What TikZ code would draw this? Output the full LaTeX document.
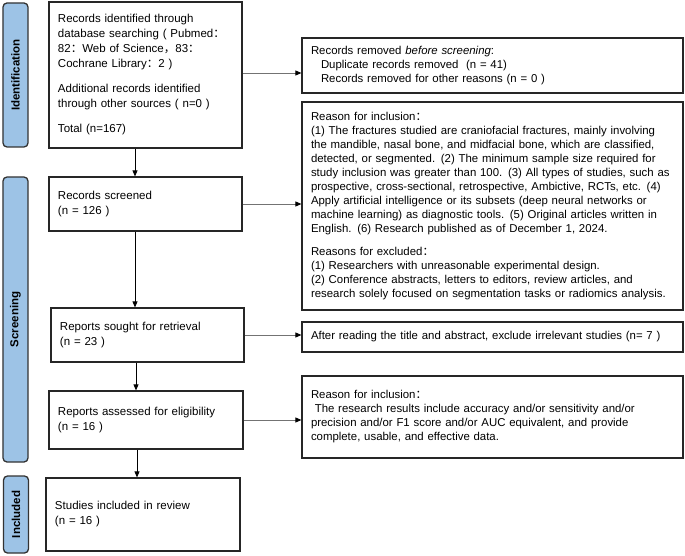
\documentclass[tikz,border=0pt]{standalone}
\usepackage{fontspec}
\setmainfont{Liberation Sans}
\newfontfamily\cjkfont{Noto Sans CJK SC}
\usetikzlibrary{arrows.meta}
\newcommand{\fwc}{{\cjkfont ：}}
\newcommand{\fwcomma}{{\cjkfont ，}}
\definecolor{labblue}{RGB}{157,195,230}
\begin{document}
\begin{tikzpicture}[x=1bp,y=-1bp,
  lab/.style={draw=black!80, fill=labblue, rounded corners=4bp, line width=1.3bp,
    rotate=90, font=\bfseries\fontsize{11.5bp}{13bp}\selectfont, inner sep=0pt,
    minimum height=25bp},
  lbox/.style={draw=black!85, line width=1.2bp, inner xsep=9bp, inner ysep=0pt,
    align=left, font=\fontsize{11.5bp}{15bp}\selectfont},
  rbox/.style={draw=black!85, line width=1.2bp, inner xsep=9bp, inner ysep=0pt,
    align=left, font=\fontsize{11.4bp}{14bp}\selectfont,
    minimum width=381bp, text width=363bp},
  varr/.style={-{Triangle[length=6bp,width=5bp]}, line width=0.8bp, draw=black},
  harr/.style={-{Triangle[length=6bp,width=5bp,color=black]}, line width=0.8bp, draw=black!55}
]
\useasboundingbox (0,0) rectangle (685,556);

% stage labels
\node[lab, minimum width=144bp] (idlab) at (15.5,75) {Identification};
\node[lab, minimum width=285bp] (scrlab) at (15.5,319.5) {Screening};
\node[lab, minimum width=77bp] (inclab) at (16,514.5) {Included};

% left column
\node[lbox, minimum width=193bp, text width=175bp, minimum height=146bp] (b1) at (145.5,75)
 {Records identified through\\
  database searching ( Pubmed\fwc\\
  82\fwc Web of Science\fwcomma 83\fwc\\
  Cochrane Library\fwc 2 )\\[10bp]
  Additional records identified\\
  through other sources ( n=0 )\\[10bp]
  Total (n=167)};
\node[lbox, minimum width=193bp, text width=175bp, minimum height=54bp] (scr) at (145.5,204)
 {Records screened\\(n = 126 )};
\node[lbox, minimum width=193bp, text width=175bp, minimum height=54bp] (sought) at (147.5,335)
 {Reports sought for retrieval\\(n = 23 )};
\node[lbox, minimum width=194bp, text width=176bp, minimum height=58bp] (assessed) at (146,420)
 {Reports assessed for eligibility\\(n = 16 )};
\node[lbox, minimum width=194bp, text width=176bp, minimum height=73bp] (studies) at (143,514.5)
 {Studies included in review\\(n = 16 )};

% right column
\node[rbox, minimum height=55bp] (rem) at (492.5,65.5)
 {Records removed \textit{before screening}:\\
  \hspace*{10bp}Duplicate records removed~ (n = 41)\\
  \hspace*{10bp}Records removed for other reasons (n = 0 )};
\node[rbox, minimum height=208bp] (inc1) at (492.5,206)
 {Reason for inclusion\fwc\\
  (1) The fractures studied are craniofacial fractures, mainly involving\\
  the mandible, nasal bone, and midfacial bone, which are classified,\\
  detected, or segmented. (2) The minimum sample size required for\\
  study inclusion was greater than 100. (3) All types of studies, such as\\
  prospective, cross-sectional, retrospective, Ambictive, RCTs, etc. (4)\\
  Apply artificial intelligence or its subsets (deep neural networks or\\
  machine learning) as diagnostic tools. (5) Original articles written in\\
  English. (6) Research published as of December 1, 2024.\\[9bp]
  Reasons for excluded\fwc\\
  (1) Researchers with unreasonable experimental design.\\
  (2) Conference abstracts, letters to editors, review articles, and\\
  research solely focused on segmentation tasks or radiomics analysis.};
\node[rbox, minimum height=30bp] (after) at (492.5,337)
 {After reading the title and abstract, exclude irrelevant studies (n= 7 )};
\node[rbox, minimum height=82bp] (inc2) at (492.5,417)
 {Reason for inclusion\fwc\\
  \ The research results include accuracy and/or sensitivity and/or\\
  precision and/or F1 score and/or AUC equivalent, and provide\\
  complete, usable, and effective data.};

% helper coordinates for connector positions
\coordinate (xa) at (135,0);
\coordinate (xb) at (136,0);
\coordinate (xc) at (137,0);
\coordinate (ya) at (0,73);

% connectors
\draw[varr] (b1.south -| xa) -- (scr.north -| xa);
\draw[varr] (scr.south -| xa) -- (sought.north -| xa);
\draw[varr] (sought.south -| xb) -- (assessed.north -| xb);
\draw[varr] (assessed.south -| xc) -- (studies.north -| xc);
\draw[harr] (b1.east |- ya) -- (rem.west |- ya);
\draw[harr] (scr.east) -- (scr.east -| inc1.west);
\draw[harr] (sought.east) -- (sought.east -| after.west);
\draw[harr] (assessed.east) -- (assessed.east -| inc2.west);
\end{tikzpicture}
\end{document}
